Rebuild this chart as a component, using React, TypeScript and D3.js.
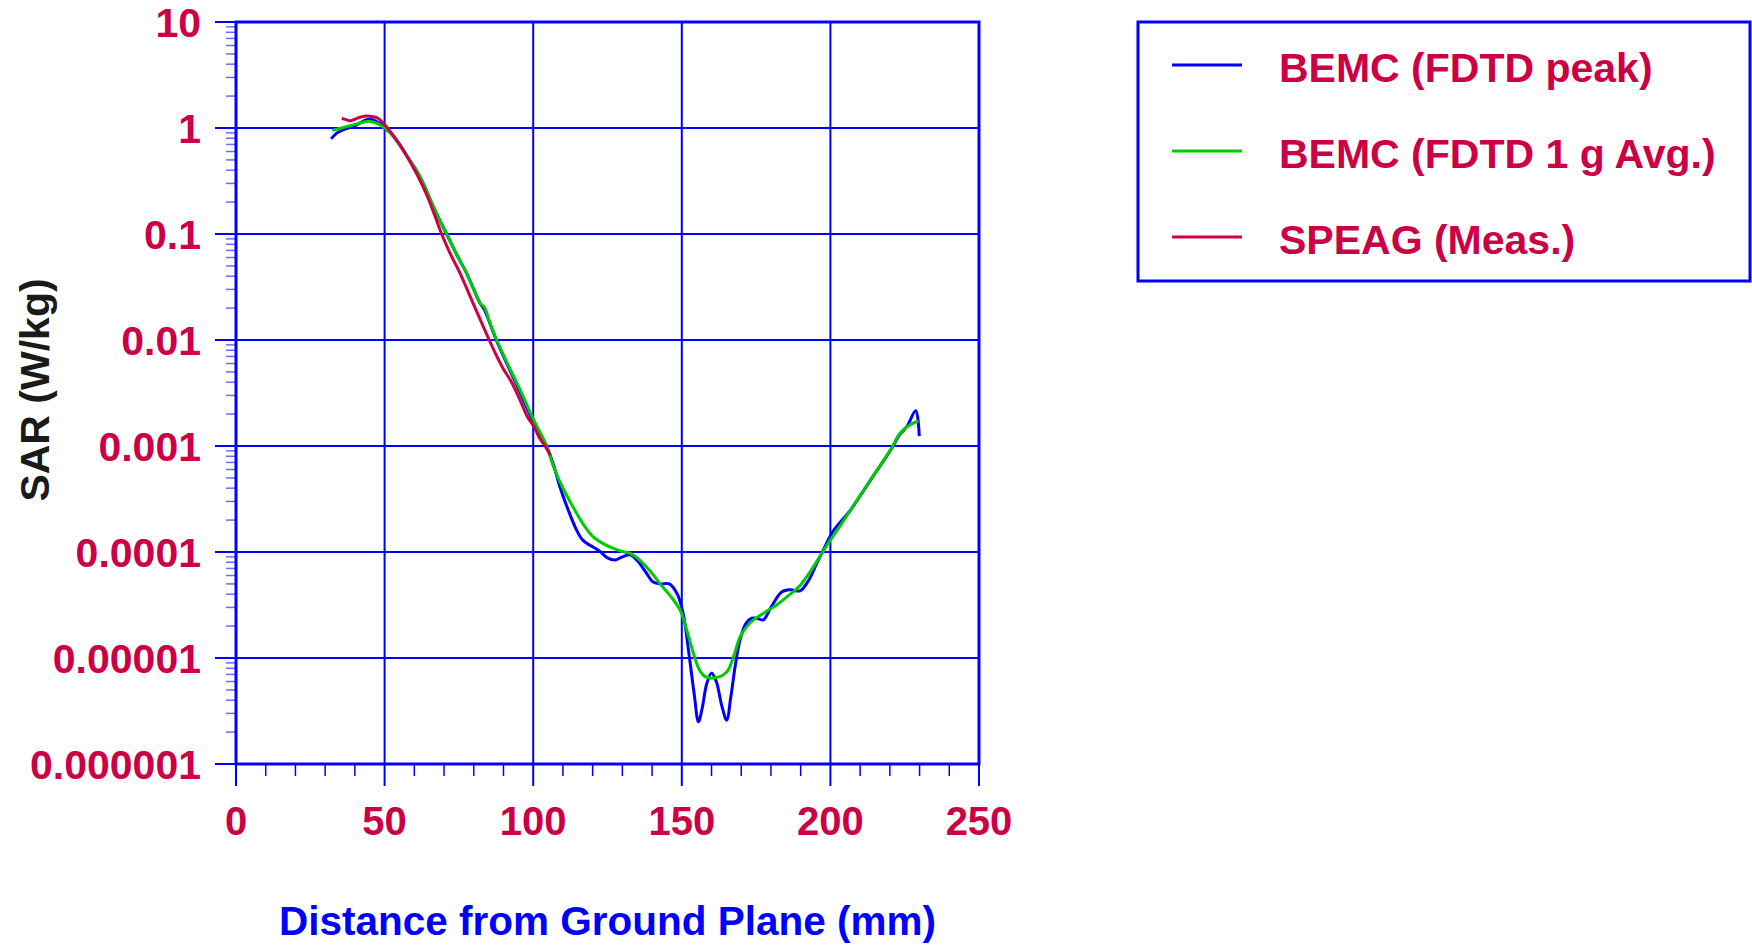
import React, { useEffect } from "react";
import * as d3 from "d3";

// x in mm, SAR in W/kg
const peakSeries: [number, number][] = [
  [32, 0.79], [34, 0.9], [36, 0.96], [40, 1.05], [43, 1.17], [45, 1.21], [48, 1.12],
  [50, 1.0], [52, 0.9], [55.2, 0.69], [58, 0.52], [60.8, 0.395], [63, 0.3], [65.4, 0.21],
  [68, 0.145], [70.9, 0.1], [74, 0.066], [77.6, 0.0426], [80, 0.03], [82.1, 0.0222],
  [83.5, 0.0195], [85.5, 0.0142], [87.7, 0.0098], [92, 0.0053], [96, 0.003], [100, 0.0017],
  [104.5, 0.001], [107, 0.00064], [109, 0.00041], [112, 0.00024], [114.6, 0.000161],
  [116.5, 0.000131], [118, 0.000121], [120, 0.000112], [122.5, 0.000101], [125, 0.000088],
  [127.5, 0.000084], [130, 0.00009], [132.6, 0.000094], [135, 0.000083], [138, 0.000064],
  [140.4, 0.000052], [143, 0.00005], [145.8, 0.00005], [148.5, 0.00004], [150.5, 0.000026],
  [152.4, 0.000011], [154.2, 0.0000045], [155.6, 0.0000025], [156.9, 0.0000034],
  [158.3, 0.0000056], [160, 0.0000072], [161.6, 0.000006], [163.5, 0.0000035],
  [165.1, 0.0000026], [166.5, 0.0000043], [168, 0.0000085], [169.6, 0.0000148],
  [171.5, 0.000021], [173.5, 0.0000237], [175.5, 0.0000236], [177.4, 0.0000229],
  [180, 0.00003], [183.6, 0.000042], [186.5, 0.000044], [189.8, 0.000043], [192.5, 0.000053],
  [195.4, 0.000078], [198, 0.00011], [201, 0.000158], [206.6, 0.000245], [210.5, 0.000355],
  [214.4, 0.00052], [218, 0.00073], [221, 0.00099], [223.3, 0.00128], [225.7, 0.00152],
  [228.7, 0.00215], [229.9, 0.00124],
];

const avgSeries: [number, number][] = [
  [32.4, 0.95], [35, 0.99], [38.4, 1.05], [41, 1.1], [44.5, 1.16], [47, 1.12], [50, 1.0],
  [52, 0.9], [55.2, 0.69], [58, 0.52], [60.8, 0.395], [63, 0.3], [65.4, 0.21], [68, 0.145],
  [70.9, 0.1], [74, 0.066], [77.6, 0.0426], [80, 0.03], [82.1, 0.0222], [83.5, 0.0205],
  [85.5, 0.0144], [87.7, 0.01], [92, 0.0055], [96, 0.0032], [100, 0.0018], [104.5, 0.001],
  [106.8, 0.00064], [110, 0.0004], [114.6, 0.000232], [117, 0.00018], [120.2, 0.000139],
  [124, 0.000118], [127, 0.000108], [130, 0.000101], [132.6, 0.000097], [135, 0.000088],
  [137, 0.000078], [140, 0.000063], [142.7, 0.00005], [146, 0.000039], [149.4, 0.0000284],
  [151.5, 0.000019], [153.9, 0.0000111], [155.5, 0.0000082], [157.2, 0.0000069],
  [159, 0.0000065], [161.2, 0.0000065], [163.5, 0.0000068], [165.6, 0.0000077],
  [167.5, 0.0000105], [169.6, 0.0000158], [172, 0.00002], [174.1, 0.0000229], [178, 0.000027],
  [181.9, 0.0000316], [186, 0.000039], [189.8, 0.0000483], [193, 0.000064], [197.2, 0.000098],
  [200, 0.00013], [202.7, 0.000167], [206.6, 0.000245], [210.5, 0.000359], [214.4, 0.000525],
  [218, 0.00074], [221, 0.001], [222.9, 0.00126], [224.5, 0.00142], [227, 0.0016],
  [229.6, 0.00173],
];

const measSeries: [number, number][] = [
  [35.6, 1.23], [37, 1.2], [38.4, 1.17], [40, 1.21], [42, 1.27], [44, 1.3], [46, 1.28],
  [47.9, 1.23], [50, 1.08], [52, 0.92], [55, 0.7], [58, 0.51], [61, 0.36], [64, 0.24],
  [66.5, 0.16], [69.2, 0.1], [72, 0.066], [75.4, 0.0426], [78, 0.029], [81, 0.0185],
  [85.2, 0.01], [88, 0.0068], [90, 0.0053], [92.5, 0.0041], [95.6, 0.0027], [98, 0.0019],
  [100.4, 0.0015], [102, 0.00121], [104, 0.001], [105.7, 0.00082],
];

const seriesNames = ["BEMC (FDTD peak)", "BEMC (FDTD 1 g Avg.)", "SPEAG (Meas.)"];
const seriesColors = ["#0000ff", "#00cc00", "#cc0044"];

const xTicks = [0, 50, 100, 150, 200, 250];
const xMinorTicks = d3.range(0, 251, 10);
const yTicks = [10, 1, 0.1, 0.01, 0.001, 0.0001, 0.00001, 0.000001];
const yTickLabels = ["10", "1", "0.1", "0.01", "0.001", "0.0001", "0.00001", "0.000001"];

const W = 1752;
const H = 945;
const left = 236;
const right = 979;
const top = 22;
const bottom = 764;

const crimson = "#cc0044";
const blue = "#0000ff";
const font = "'Liberation Sans', Arial, sans-serif";

export default function App() {
  useEffect(() => {
    document.body.style.margin = "0";
  }, []);

  const x = d3.scaleLinear().domain([0, 250]).range([left, right]);
  const y = d3.scaleLog().domain([0.000001, 10]).range([bottom, top]);

  const line = d3
    .line<[number, number]>()
    .x((d) => x(d[0]))
    .y((d) => y(d[1]))
    .curve(d3.curveCatmullRom.alpha(0.5));

  // minor log ticks 2..9 in each decade
  const yMinor: number[] = [];
  for (let e = -6; e < 1; e++) {
    for (let k = 2; k <= 9; k++) yMinor.push(k * Math.pow(10, e));
  }

  const allSeries = [peakSeries, avgSeries, measSeries];

  return (
    <svg
      width={W}
      height={H}
      style={{ position: "absolute", left: 0, top: 0, background: "white" }}
      fontFamily={font}
      fontWeight="bold"
    >
      <rect width={W} height={H} fill="white" />

      {/* grid */}
      {yTicks.map((t) => (
        <line key={"gy" + t} x1={left - 21} x2={right} y1={y(t)} y2={y(t)} stroke={blue} strokeWidth={2} />
      ))}
      {xTicks.map((t) => (
        <line key={"gx" + t} x1={x(t)} x2={x(t)} y1={top} y2={bottom + 22} stroke={blue} strokeWidth={2} />
      ))}
      {xMinorTicks
        .filter((t) => t % 50 !== 0)
        .map((t) => (
          <line key={"mx" + t} x1={x(t)} x2={x(t)} y1={bottom} y2={bottom + 12} stroke={blue} strokeWidth={1.5} />
        ))}
      {yMinor.map((t) => (
        <line key={"my" + t} x1={left - 10} x2={left} y1={y(t)} y2={y(t)} stroke="#6a6aff" strokeWidth={1.5} />
      ))}

      {/* frame */}
      <rect x={left} y={top} width={right - left} height={bottom - top} fill="none" stroke={blue} strokeWidth={3} />

      {/* curves */}
      {allSeries.map((s, i) => (
        <path key={"s" + i} d={line(s) || ""} fill="none" stroke={seriesColors[i]} strokeWidth={3} strokeLinejoin="round" />
      ))}

      {/* y tick labels */}
      {yTicks.map((t, i) => (
        <text key={"ly" + t} x={201} y={y(t)} dy={15} textAnchor="end" fontSize={41} fill={crimson}>
          {yTickLabels[i]}
        </text>
      ))}
      {/* x tick labels */}
      {xTicks.map((t) => (
        <text key={"lx" + t} x={x(t)} y={835} textAnchor="middle" fontSize={40} fill={crimson}>
          {t}
        </text>
      ))}

      <text x={(left + right) / 2} y={935} textAnchor="middle" fontSize={40.5} fill={blue}>
        Distance from Ground Plane (mm)
      </text>
      <text
        transform={`translate(49, 390) rotate(-90)`}
        textAnchor="middle"
        fontSize={41}
        fill="#1a1a1a"
      >
        SAR (W/kg)
      </text>

      {/* legend */}
      <rect x={1138} y={22} width={612} height={259} fill="white" stroke={blue} strokeWidth={3} />
      {seriesNames.map((n, i) => {
        const ly = 65 + i * 86;
        return (
          <g key={"lg" + i}>
            <line x1={1172} x2={1242} y1={ly} y2={ly} stroke={seriesColors[i]} strokeWidth={3} />
            <text x={1279} y={ly + 17} fontSize={41} fill={crimson}>
              {n}
            </text>
          </g>
        );
      })}
    </svg>
  );
}
